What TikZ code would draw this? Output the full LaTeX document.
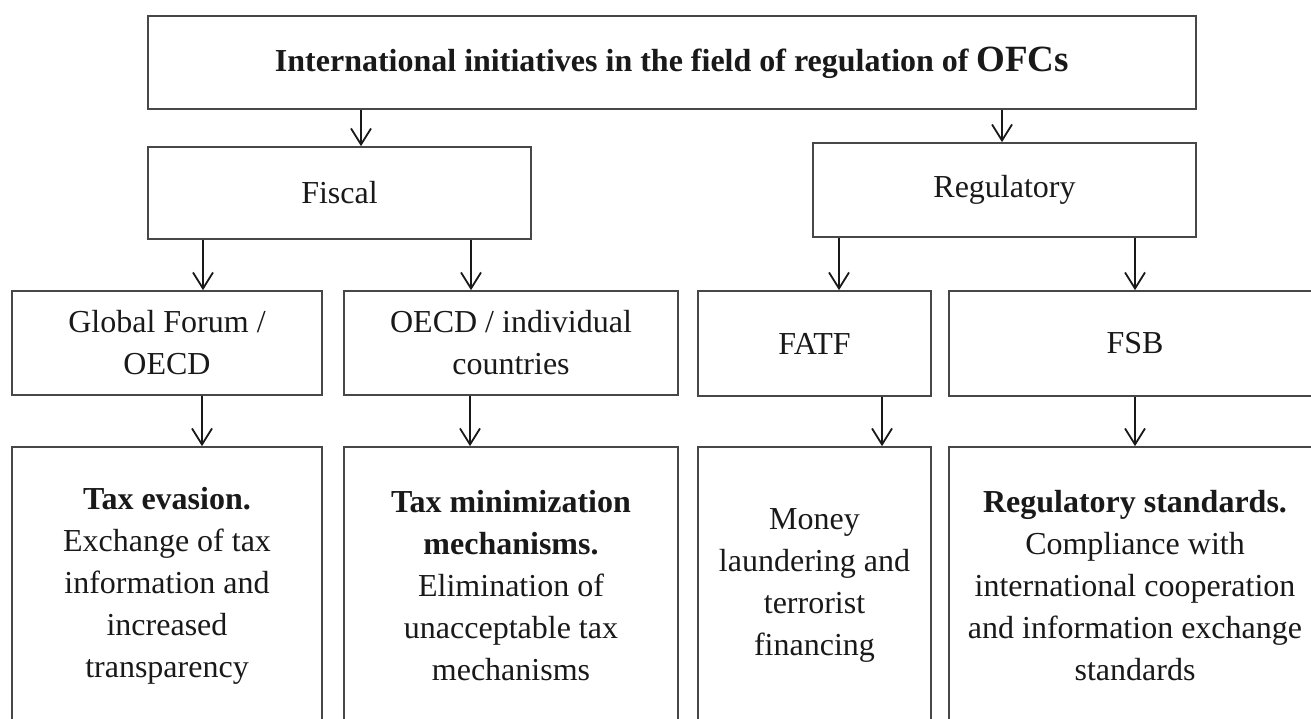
\documentclass[tikz,border=0pt]{standalone}
\usepackage{fontspec}
\setmainfont{Liberation Serif}
\usetikzlibrary{arrows.meta}
\tikzset{
  box/.style={draw=black!72, line width=1.7pt, rectangle, inner sep=0pt, align=center,
    font=\fontsize{32}{42}\selectfont, text=black!90},
  tallbox/.style={box, minimum height=277pt},
  arr/.style={draw=black!90, line width=1.8pt,
    -{Straight Barb[length=16pt,width=20pt,line width=1.8pt]}}
}
\begin{document}
\begin{tikzpicture}[x=1pt,y=-1pt]
\useasboundingbox (0,0) rectangle (1311,718);
\clip (0,0) rectangle (1311,718);
\fill[white] (0,0) rectangle (1311,718);
% top
\node[box, minimum width=1048pt, minimum height=93pt] (top) at (672,62.5)
  {\bfseries International initiatives in the field of regulation of {\fontsize{37}{41}\selectfont OFCs}};
% second row
\node[box, minimum width=383pt, minimum height=92pt] (fiscal) at (339.5,193) {Fiscal};
\node[box, minimum width=383pt, minimum height=94pt] (reg) at (1004.5,190) {Regulatory};
% third row
\node[box, minimum width=310pt, minimum height=104pt] (gf) at (167,343) {Global Forum /\\OECD};
\node[box, minimum width=334pt, minimum height=104pt] (oecd) at (511,343) {OECD / individual\\countries};
\node[box, minimum width=233pt, minimum height=105pt] (fatf) at (814.5,343.5) {FATF};
\node[box, minimum width=372pt, minimum height=105pt] (fsb) at (1135,343.5) {FSB};
% bottom row (bottom edges fall outside the picture)
\node[tallbox, minimum width=310pt] (b1) at (167,585.5)
  {\textbf{Tax evasion.}\\Exchange of tax\\information and\\increased\\transparency};
\node[tallbox, minimum width=334pt] (b2) at (511,585.5)
  {\textbf{Tax minimization}\\\textbf{mechanisms.}\\Elimination of\\unacceptable tax\\mechanisms};
\node[tallbox, minimum width=233pt] (b3) at (814.5,585.5)
  {Money\\laundering and\\terrorist\\financing};
\node[tallbox, minimum width=372pt] (b4) at (1135,585.5)
  {\textbf{Regulatory standards.}\\Compliance with\\international cooperation\\and information exchange\\standards};
% arrow columns
\coordinate (c1) at (361,0);
\coordinate (c2) at (1002,0);
\coordinate (c3) at (203,0);
\coordinate (c4) at (471,0);
\coordinate (c5) at (839,0);
\coordinate (c6) at (1135,0);
\coordinate (c7) at (202,0);
\coordinate (c8) at (470,0);
\coordinate (c9) at (882,0);
\draw[arr] (top.south -| c1) -- (fiscal.north -| c1);
\draw[arr] (top.south -| c2) -- (reg.north -| c2);
\draw[arr] (fiscal.south -| c3) -- (gf.north -| c3);
\draw[arr] (fiscal.south -| c4) -- (oecd.north -| c4);
\draw[arr] (reg.south -| c5) -- (fatf.north -| c5);
\draw[arr] (reg.south -| c6) -- (fsb.north -| c6);
\draw[arr] (gf.south -| c7) -- (b1.north -| c7);
\draw[arr] (oecd.south -| c8) -- (b2.north -| c8);
\draw[arr] (fatf.south -| c9) -- (b3.north -| c9);
\draw[arr] (fsb.south -| c6) -- (b4.north -| c6);
\end{tikzpicture}
\end{document}
